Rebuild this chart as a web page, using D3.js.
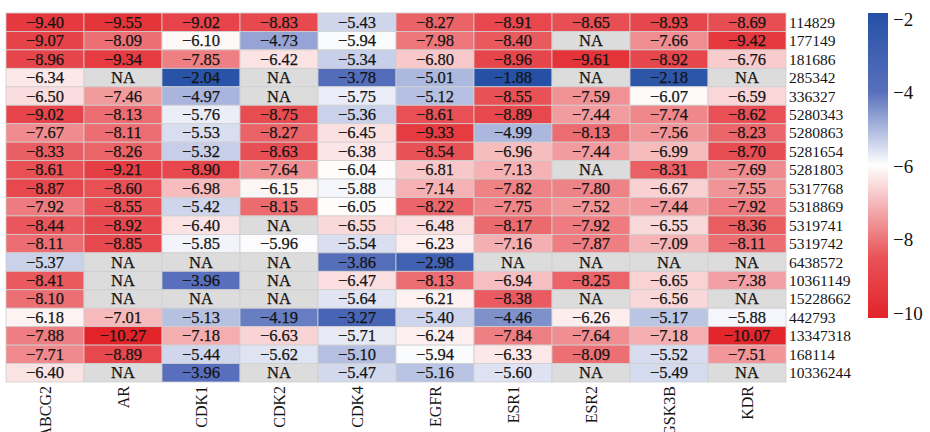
<!DOCTYPE html>
<html><head><meta charset="utf-8">
<script src="https://cdn.jsdelivr.net/npm/d3@7/dist/d3.min.js"></script>
<style>html,body{margin:0;padding:0;background:#fff;overflow:hidden}</style>
</head><body><svg id="c" width="930" height="432"></svg>
<script>
const genes = ["ABCG2","AR","CDK1","CDK2","CDK4","EGFR","ESR1","ESR2","GSK3B","KDR"];
const compounds = ["114829","177149","181686","285342","336327","5280343","5280863","5281654","5281803","5317768","5318869","5319741","5319742","6438572","10361149","15228662","442793","13347318","168114","10336244"];
// one array per gene (column), values in compound order; null = NA
const ABCG2 = [-9.40,-9.07,-8.96,-6.34,-6.50,-9.02,-7.67,-8.33,-8.61,-8.87,-7.92,-8.44,-8.11,-5.37,-8.41,-8.10,-6.18,-7.88,-7.71,-6.40];
const AR    = [-9.55,-8.09,-9.34,null,-7.46,-8.13,-8.11,-8.26,-9.21,-8.60,-8.55,-8.92,-8.85,null,null,null,-7.01,-10.27,-8.89,null];
const CDK1  = [-9.02,-6.10,-7.85,-2.04,-4.97,-5.76,-5.53,-5.32,-8.90,-6.98,-5.42,-6.40,-5.85,null,-3.96,null,-5.13,-7.18,-5.44,-3.96];
const CDK2  = [-8.83,-4.73,-6.42,null,null,-8.75,-8.27,-8.63,-7.64,-6.15,-8.15,null,-5.96,null,null,null,-4.19,-6.63,-5.62,null];
const CDK4  = [-5.43,-5.94,-5.34,-3.78,-5.75,-5.36,-6.45,-6.38,-6.04,-5.88,-6.05,-6.55,-5.54,-3.86,-6.47,-5.64,-3.27,-5.71,-5.10,-5.47];
const EGFR  = [-8.27,-7.98,-6.80,-5.01,-5.12,-8.61,-9.33,-8.54,-6.81,-7.14,-8.22,-6.48,-6.23,-2.98,-8.13,-6.21,-5.40,-6.24,-5.94,-5.16];
const ESR1  = [-8.91,-8.40,-8.96,-1.88,-8.55,-8.89,-4.99,-6.96,-7.13,-7.82,-7.75,-8.17,-7.16,null,-6.94,-8.38,-4.46,-7.84,-6.33,-5.60];
const ESR2  = [-8.65,null,-9.61,null,-7.59,-7.44,-8.13,-7.44,null,-7.80,-7.52,-7.92,-7.87,null,-8.25,null,-6.26,-7.64,-8.09,null];
const GSK3B = [-8.93,-7.66,-8.92,-2.18,-6.07,-7.74,-7.56,-6.99,-8.31,-6.67,-7.44,-6.55,-7.09,null,-6.65,-6.56,-5.17,-7.18,-5.52,-5.49];
const KDR   = [-8.69,-9.42,-6.76,null,-6.59,-8.62,-8.23,-8.70,-7.69,-7.55,-7.92,-8.36,-8.11,null,-7.38,null,-5.88,-10.07,-7.51,null];
const legendTicks = [-2,-4,-6,-8,-10];

const columns = [ABCG2,AR,CDK1,CDK2,CDK4,EGFR,ESR1,ESR2,GSK3B,KDR];
const cells = [];
genes.forEach((g,j)=>compounds.forEach((c,i)=>cells.push({gene:g,compound:c,value:columns[j][i]})));

const svg = d3.select("#c");
const mLeft=6, mTop=13, W=780, H=369;
const x = d3.scaleBand().domain(genes).range([mLeft,mLeft+W]);
const y = d3.scaleBand().domain(compounds).range([mTop,mTop+H]);

const stops = [-10.16,-8.5,-6.0,-4.0,-1.86];
const stopColors = ["#e2232a","#e85358","#ffffff","#5870bc","#2550a5"];
const color = d3.scaleLinear().domain(stops).range(stopColors).interpolate(d3.interpolateRgb).clamp(true);
const fmt = d3.format(".2f");
const fontS = "'Liberation Serif','Times New Roman',serif";
const ink = "#141414";

const g = svg.append("g");
g.selectAll("rect").data(cells).join("rect")
  .attr("x",d=>x(d.gene)).attr("y",d=>y(d.compound))
  .attr("width",x.bandwidth()).attr("height",y.bandwidth())
  .attr("fill",d=>d.value==null?"#dcdcdc":color(d.value))
  .attr("stroke","#cfcfcf").attr("stroke-width",0.8);
g.selectAll("text").data(cells).join("text")
  .attr("x",d=>x(d.gene)+x.bandwidth()/2).attr("y",d=>y(d.compound)+y.bandwidth()/2)
  .attr("text-anchor","middle").attr("dominant-baseline","central")
  .attr("font-family",fontS).attr("font-size",16.5).attr("fill",ink)
  .attr("stroke",ink).attr("stroke-width",0.25)
  .text(d=>d.value==null?"NA":fmt(d.value).replace("-","\u2212"));

// row labels
svg.append("g").selectAll("text").data(compounds).join("text")
  .attr("x",mLeft+W+3).attr("y",d=>y(d)+y.bandwidth()/2)
  .attr("dominant-baseline","central").attr("font-family",fontS).attr("font-size",15.5).attr("fill",ink)
  .text(d=>d);

// column labels
svg.append("g").selectAll("text").data(genes).join("text")
  .attr("transform",d=>`translate(${x(d)+x.bandwidth()/2},${mTop+H+4}) rotate(-90)`)
  .attr("text-anchor","end").attr("dominant-baseline","central")
  .attr("font-family",fontS).attr("font-size",16).attr("fill",ink)
  .text(d=>d);

// colour legend
const ly = d3.scaleLinear().domain([-1.86,-10.16]).range([13,318]);
const defs = svg.append("defs");
const grad = defs.append("linearGradient").attr("id","lg").attr("x1",0).attr("y1",0).attr("x2",0).attr("y2",1);
grad.selectAll("stop").data(stops.slice().reverse()).join("stop")
  .attr("offset",d=>(ly(d)-13)/(318-13)).attr("stop-color",d=>color(d));
svg.append("rect").attr("x",868).attr("y",ly(-1.86)).attr("width",20).attr("height",ly(-10.16)-ly(-1.86)).attr("fill","url(#lg)");
svg.append("g").selectAll("text").data(legendTicks).join("text")
  .attr("x",893).attr("y",d=>ly(d)+1).attr("dominant-baseline","central")
  .attr("font-family",fontS).attr("font-size",19).attr("fill",ink)
  .text(d=>String(d).replace("-","\u2212"));
</script></body></html>
